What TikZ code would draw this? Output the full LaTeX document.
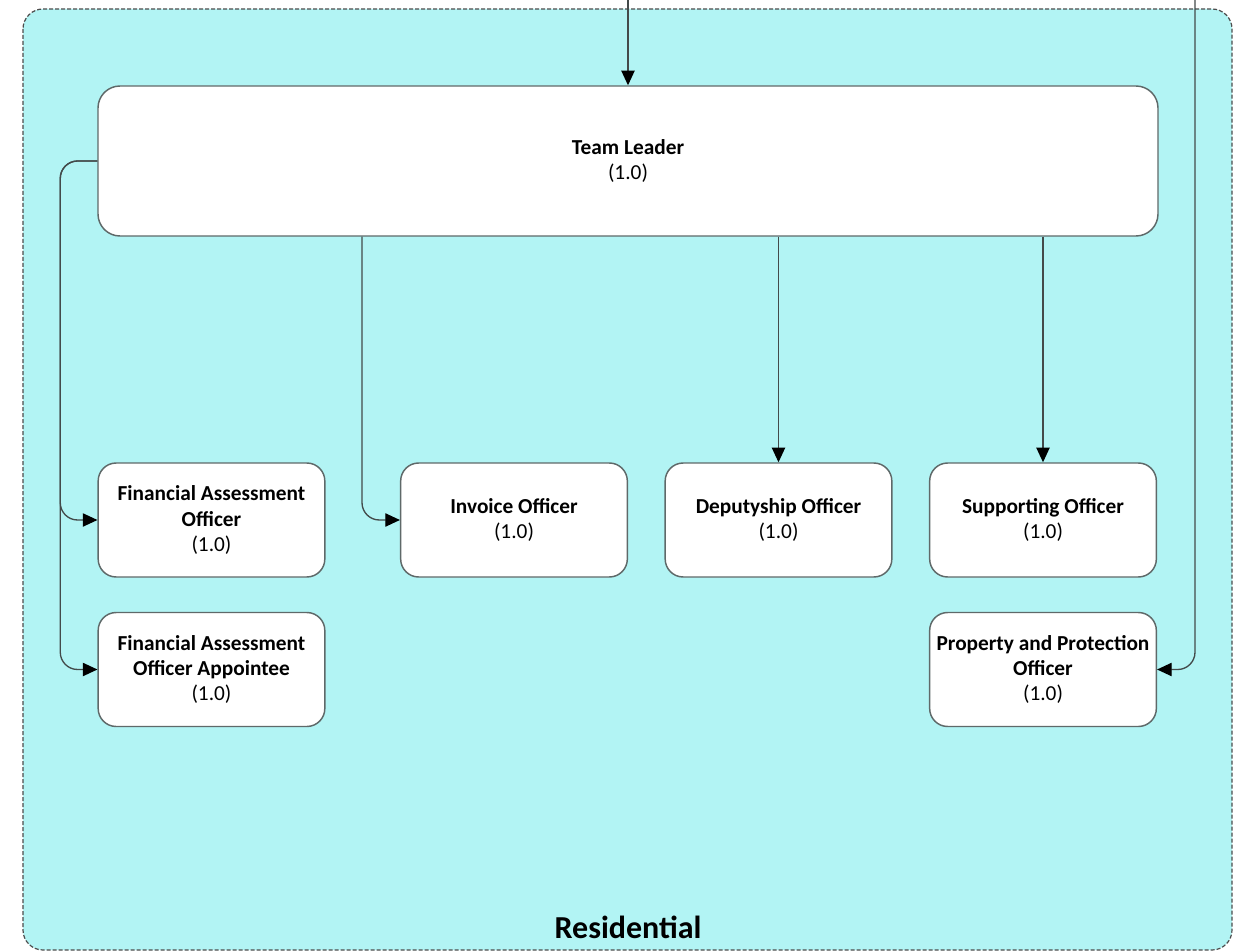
\documentclass[tikz,border=0pt]{standalone}
\usepackage{fontspec}
\setmainfont{Carlito}
\usetikzlibrary{arrows.meta,positioning}
\definecolor{residential}{RGB}{178,244,244}
\definecolor{boxline}{RGB}{95,105,105}
\begin{document}
\begin{tikzpicture}[x=0.75pt,y=-0.75pt,
    role/.style={draw=boxline, line width=1.1pt, fill=white, rounded corners=13.5pt,
        minimum width=170pt, minimum height=85.5pt, inner sep=0pt, align=center,
        font=\fontsize{16}{19}\selectfont},
    link/.style={draw=boxline!70!black, line width=1pt, rounded corners=13pt,
        -{Triangle[length=11pt,width=10pt,black]}}]
        % Page size
        \useasboundingbox (0,0) rectangle (1239,952);

        % --- Residential group ---
        \draw[gray!60!black, line width=0.9pt, dash pattern=on 3pt off 1.5pt,
            fill=residential, rounded corners=15pt] (23,9) rectangle (1232,950);
        \node[font=\bfseries\fontsize{24}{28}\selectfont] (group) at (628,927) {Residential};

        % Team leader
        \node[role, minimum width=795pt, minimum height=112.5pt, rounded corners=16.5pt]
            (leader) at (628,161) {\textbf{Team Leader}\\(1.0)};

        % First row
        \node[role] (fao) at (211.5,520) {\textbf{Financial Assessment}\\\textbf{Officer}\\(1.0)};
        \node[role] (invoice) at (514,520) {\textbf{Invoice Officer}\\(1.0)};
        \node[role] (deputy) at (778.5,520) {\textbf{Deputyship Officer}\\(1.0)};
        \node[role] (support) at (1043,520) {\textbf{Supporting Officer}\\(1.0)};

        % Second row
        \node[role] (appointee) at (211.5,669.5) {\textbf{Financial Assessment}\\\textbf{Officer Appointee}\\(1.0)};
        \node[role] (property) at (1043,669.5) {\textbf{Property and Protection}\\\textbf{Officer}\\(1.0)};

        % --- Connectors ---
        \coordinate (inA) at (628,0);
        \coordinate (inB) at (1195,0);
        \coordinate (invx) at (362,0);
        \draw[link] (inA) -- (leader.north);
        \draw[link] (inB) |- (property.east);
        \draw[link] (leader.west) -- ++(-37,0) |- (fao.west);
        \draw[link] (leader.west) -- ++(-37,0) |- (appointee.west);
        \draw[link] (leader.south -| invx) |- (invoice.west);
        \draw[link] (leader.south -| deputy.north) -- (deputy.north);
        \draw[link] (leader.south -| support.north) -- (support.north);
    \end{tikzpicture}
\end{document}
